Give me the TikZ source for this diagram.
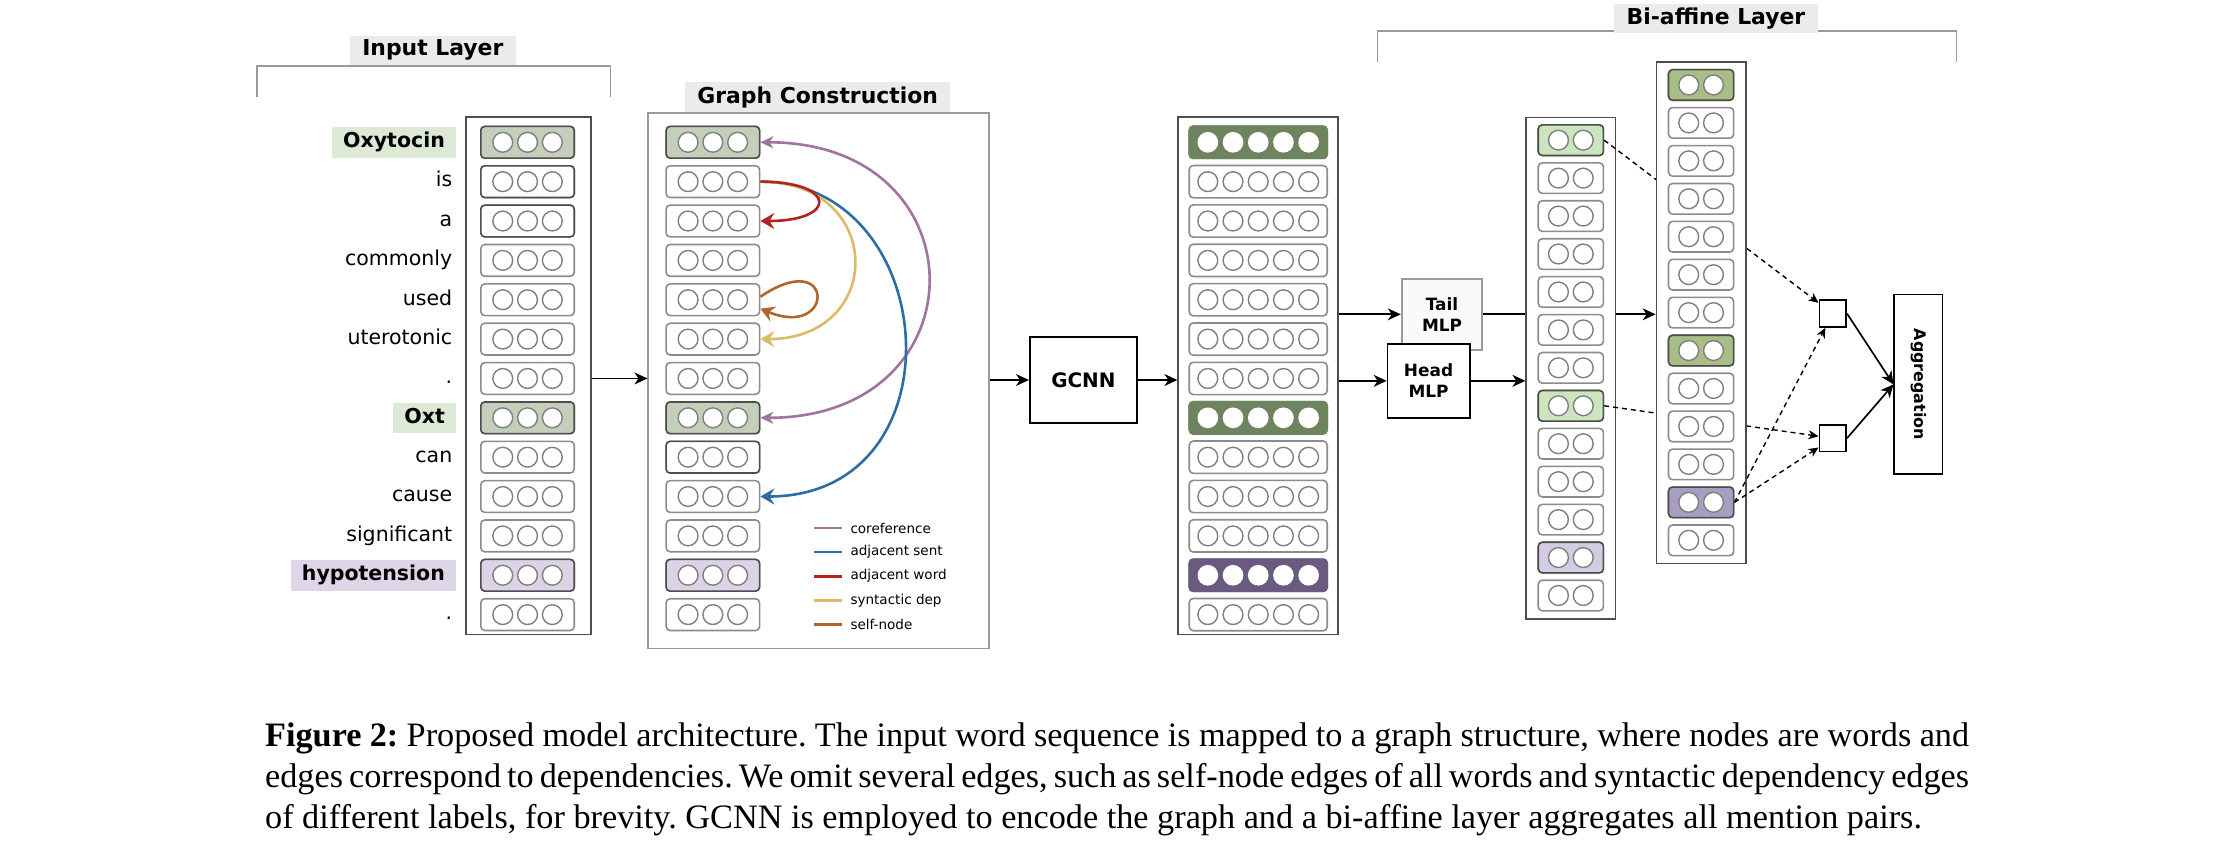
\documentclass[tikz,border=0pt]{standalone}
\usepackage{fontspec}
\setmainfont{Liberation Serif}
\setsansfont{DejaVu Sans}
\usepackage{graphicx}
\usepackage{xcolor}
\usepackage{tikz}
\usetikzlibrary{positioning,arrows.meta}

\definecolor{hdrgray}{HTML}{EBEBEB}
\definecolor{brgray}{HTML}{9A9A9A}
\definecolor{rowgray}{HTML}{8C8C8C}
\definecolor{rowdark}{HTML}{4D4D4D}
\definecolor{dotgray}{HTML}{7F7F7F}
\definecolor{ingreen}{HTML}{C4CFBB}
\definecolor{inlav}{HTML}{DCD4E6}
\definecolor{wgreen}{HTML}{DCEAD5}
\definecolor{wlav}{HTML}{DDD5E8}
\definecolor{gcgreen}{HTML}{6E845F}
\definecolor{gcpurp}{HTML}{6A5A82}
\definecolor{agreen}{HTML}{CDE5BE}
\definecolor{alav}{HTML}{D3CCE2}
\definecolor{bgreen}{HTML}{A8BE86}
\definecolor{bpurp}{HTML}{A89EC2}
\definecolor{coref}{HTML}{A2739E}
\definecolor{adjsent}{HTML}{2E6DA4}
\definecolor{adjword}{HTML}{B2221F}
\definecolor{syndep}{HTML}{DDBA66}
\definecolor{selfnode}{HTML}{B0662A}

\pgfdeclarelayer{back}
\pgfdeclarelayer{front}
\pgfsetlayers{back,main,front}

\begin{document}
\frenchspacing
\begin{tikzpicture}[x=0.025cm,y=-0.025cm,>={Stealth[length=6.5pt,width=6pt,inset=2pt]},font=\sffamily]
  \tikzstyle{hdr}=[fill=hdrgray,inner xsep=0.22cm,inner ysep=0pt,minimum height=0.52cm,font=\sffamily\bfseries\fontsize{11}{13}\selectfont]
  \tikzstyle{brk}=[draw=brgray,line width=0.8pt]
  \tikzstyle{colbox}=[draw=rowdark,line width=0.9pt,fill=white,inner sep=0pt]
  \tikzstyle{vec}=[draw=rowgray,line width=0.8pt,fill=white,rounded corners=2pt,inner sep=0pt,minimum height=0.56cm]
  \tikzstyle{unit}=[draw=dotgray,line width=0.7pt,fill=white]
  \tikzstyle{word}=[anchor=east,inner xsep=0.07cm,inner ysep=0pt,minimum height=0.54cm,text height=0.75em,text depth=0.22em,font=\sffamily\fontsize{10.3}{12}\selectfont]
  \tikzstyle{mgreen}=[word,inner xsep=0.2cm,fill=wgreen,font=\sffamily\bfseries\fontsize{10.3}{12}\selectfont]
  \tikzstyle{mlav}=[mgreen,fill=wlav]
  \tikzstyle{block}=[draw,line width=0.9pt,fill=white,align=center,inner sep=0pt,font=\sffamily\bfseries\fontsize{8.5}{10.5}\selectfont]
  \tikzstyle{link}=[->,line width=0.85pt]
  \tikzstyle{gedge}=[line width=1.3pt,-{Stealth[length=7pt,width=8pt,inset=2.5pt]}]
  \tikzstyle{pairarr}=[-{Stealth[length=5pt,width=4.5pt,inset=1.5pt]},line width=0.7pt,dash pattern=on 2.5pt off 2pt]
  \tikzstyle{legtext}=[right,inner xsep=0.12cm,font=\sffamily\fontsize{6.8}{8}\selectfont]

  \useasboundingbox (0,0) rectangle (1568,604.5);

  % input layer
  \draw[brk] (181.5,68.3) -- (181.5,46.6) -- (431.3,46.6) -- (431.3,68.3);
  \node[hdr] (inhdr) at (305.7,35.5) {Input Layer};
  \node[colbox,minimum width=2.21cm,minimum height=9.13cm] (inbox) at (373.2,265.5) {};
  \foreach \i in {1,...,13}
    \node[vec,minimum width=1.65cm] (in\i) at (372.6,{100.5+27.8*(\i-1)}) {};
  \foreach \i/\c in {1/ingreen,2/white,3/white,8/ingreen,12/inlav}
    \node[vec,minimum width=1.65cm,fill=\c,draw=rowdark] at (in\i) {};
  \foreach \i in {1,...,13}
    \foreach \k in {-1,0,1}
      \draw[unit] (in\i.center) ++(\k*17.5,0) circle (7);
  \foreach \w/\s [count=\i] in {Oxytocin/mgreen,is/word,a/word,commonly/word,used/word,uterotonic/word,./word,Oxt/mgreen,can/word,cause/word,significant/word,hypotension/mlav,./word}
    \node[\s] (w\i) at (322.5,{100.5+27.8*(\i-1)}) {\w};

  % graph construction
  \node[draw=brgray,line width=0.8pt,fill=white,minimum width=6.02cm,minimum height=9.45cm,inner sep=0pt] (gbox) at (578.25,269) {};
  \node[hdr] (ghdr) at (577.5,68.6) {Graph Construction};
  \foreach \i in {1,...,13}
    \node[vec,minimum width=1.65cm] (g\i) at (503.5,{100.5+27.8*(\i-1)}) {};
  \foreach \i/\c in {1/ingreen,8/ingreen,9/white,12/inlav}
    \node[vec,minimum width=1.65cm,fill=\c,draw=rowdark] at (g\i) {};
  \foreach \i in {1,...,13}
    \foreach \k in {-1,0,1}
      \draw[unit] (g\i.center) ++(\k*17.5,0) circle (7);

  \draw[gedge,coref,<->] (g8.east) .. controls +(157.5,0) and +(157.5,0) .. (g1.east);
  \draw[gedge,adjsent] (g2.east) .. controls +(128.5,0) and +(143.5,0) .. (g10.east);
  \draw[gedge,syndep] (g2.east) .. controls +(88.5,0) and +(88.5,0) .. (g6.east);
  \draw[gedge,adjword] (g2.east) .. controls +(54.5,0) and +(54.5,0) .. (g3.east);
  \draw[gedge,selfnode] ([yshift=1.5pt]g5.east) .. controls +(53,-36) and +(53,22) .. ([yshift=-4.5pt]g5.east);

  \foreach \t/\c [count=\j] in {coreference/coref,adjacent sent/adjsent,adjacent word/adjword,syntactic dep/syndep,self-node/selfnode}
    \draw[\c,line width=1.3pt] (575,{373+17*(\j-1)}) -- +(20,0) node[legtext,text=black] (lg\j) {\t};

  % gcnn
  \node[block,minimum width=1.89cm,minimum height=1.53cm,font=\sffamily\bfseries\fontsize{10}{12}\selectfont] (gcnn) at (765.2,268.4) {GCNN};
  \node[colbox,minimum width=2.825cm,minimum height=9.13cm] (hbox) at (888.7,265.5) {};
  \foreach \i in {1,...,13}
    \node[vec,minimum width=2.435cm,minimum height=0.57cm] (h\i) at (888.7,{100.5+27.8*(\i-1)}) {};
  \foreach \i in {1,...,13}
    \foreach \k in {-2,...,2}
      \draw[unit] (h\i.center) ++(\k*17.8,0) circle (7);
  \foreach \i/\c in {1/gcgreen,8/gcgreen,12/gcpurp}{
    \node[vec,minimum width=2.435cm,minimum height=0.57cm,fill=\c,draw=\c] at (h\i) {};
    \foreach \k in {-2,...,2}
      \fill[white] (h\i.center) ++(\k*17.8,0) circle (7.3);
  }

  % bi-affine layer
  \draw[brk] (973,44) -- (973,22) -- (1382,22) -- (1382,44);
  \node[hdr] (bhdr) at (1212,13) {Bi-affine Layer};
  \node[block,draw=brgray,fill=gray!4,minimum width=1.425cm,minimum height=1.25cm] (tail) at (1018.5,222) {Tail\\MLP};
  \node[block,minimum width=1.45cm,minimum height=1.3cm] (head) at (1009,269) {Head\\MLP};

  \node[colbox,minimum width=1.575cm,minimum height=8.85cm] (abox) at (1109.5,260) {};
  \foreach \i in {1,...,13}
    \node[vec,minimum width=1.15cm,minimum height=0.54cm] (a\i) at (1109.5,{99+26.8*(\i-1)}) {};
  \foreach \i/\c in {1/agreen,8/agreen,12/alav}
    \node[vec,minimum width=1.15cm,minimum height=0.54cm,fill=\c,draw=rowdark] at (a\i) {};
  \foreach \i in {1,...,13}
    \foreach \k in {-1,1}
      \draw[unit] (a\i.center) ++(\k*8.75,0) circle (7);

  \begin{pgfonlayer}{front}
    \node[colbox,minimum width=1.575cm,minimum height=8.85cm] (bbox) at (1201.5,221) {};
    \foreach \i in {1,...,13}
      \node[vec,minimum width=1.15cm,minimum height=0.54cm] (b\i) at (1201.5,{60+26.8*(\i-1)}) {};
    \foreach \i/\c in {1/bgreen,8/bgreen,12/bpurp}
      \node[vec,minimum width=1.15cm,minimum height=0.54cm,fill=\c,draw=rowdark] at (b\i) {};
    \foreach \i in {1,...,13}
      \foreach \k in {-1,1}
        \draw[unit] (b\i.center) ++(\k*8.75,0) circle (7);
  \end{pgfonlayer}

  \node[draw,line width=0.8pt,fill=white,minimum size=0.475cm,inner sep=0pt] (sq1) at (1294.5,221.5) {};
  \node[draw,line width=0.8pt,fill=white,minimum size=0.475cm,inner sep=0pt] (sq2) at (1294.5,309.5) {};
  \node[block,minimum width=0.85cm,minimum height=3.175cm,font=\sffamily\bfseries\fontsize{8}{10}\selectfont] (agg) at (1355,271.5) {\rotatebox{-90}{Aggregation}};

  % connectors
  \draw[link] (inbox.east |- in7) -- (gbox.west |- in7);
  \draw[link] (gbox.east |- gcnn) -- (gcnn);
  \draw[link] (gcnn) -- (hbox.west |- gcnn);
  \draw[link] (hbox.east |- tail) -- (tail);
  \draw[link] (hbox.east |- head) -- (head);
  \draw[link] (head) -- (abox.west |- head);
  \begin{pgfonlayer}{back}
    \draw[link] (tail) -- (bbox.west |- tail);
  \end{pgfonlayer}
  \draw[pairarr] (a1.east) -- (sq1);
  \draw[pairarr] (a8.east) -- (sq2);
  \begin{pgfonlayer}{front}
    \draw[pairarr] (b12.east) -- (sq1);
    \draw[pairarr] (b12.east) -- (sq2);
  \end{pgfonlayer}
  \draw[link] (sq1.east) -- (agg.west);
  \draw[link] (sq2.east) -- (agg.west);

  % caption
  \node[anchor=north west,inner sep=0pt,align=left,font=\rmfamily\fontsize{17.2}{20.6}\selectfont] (cap) at (187,510) {\makebox[30.08cm][s]{\textbf{Figure 2:} Proposed model architecture. The input word sequence is mapped to a graph structure, where nodes are words and}\\
    \makebox[30.08cm][s]{edges correspond to dependencies. We omit several edges, such as self-node edges of all words and syntactic dependency edges}\\
    of different labels, for brevity. GCNN is employed to encode the graph and a bi-affine layer aggregates all mention pairs.};
\end{tikzpicture}
\end{document}
